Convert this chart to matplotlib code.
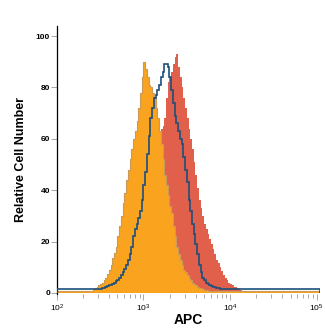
import numpy as np
import matplotlib
matplotlib.use("Agg")
import matplotlib.pyplot as plt
from matplotlib.ticker import LogLocator, FixedLocator

# histogram bins are 0.02 decades wide (log10 of APC intensity)
bin_width = 0.02
x_min_log = 2.0
x_max_log = 5.04

# orange: filled histogram, first bin starts at 10^2.40
orange_start = 2.40
orange_vals = [0.6, 1.5, 2, 2.5, 3, 3.5, 4, 5, 6, 7.5, 9, 11, 13.5, 15.5, 18,
               22, 26, 30, 35, 39, 44, 48, 52, 56, 60, 63, 67, 72, 78, 84, 90,
               87, 84, 81, 80, 78, 76, 72, 68, 63, 58, 52, 46, 42, 38, 34, 31,
               26, 22, 18, 15, 13, 11, 9, 8, 7, 6, 5, 4, 3.5, 3, 2.5, 2, 1.8,
               1.5, 1.2, 1, 0.8]
orange_base = 0.6

# red: filled histogram, first bin starts at 10^2.72
red_start = 2.72
red_vals = [1, 1.5, 2, 2.5, 3, 3.5, 4, 4.5, 5, 6, 7, 8, 9, 10.5, 12, 14, 17,
            21, 26, 33, 40, 48, 55, 60, 64, 65, 68, 76, 82, 84, 86, 89, 92, 93,
            88, 84, 80, 76, 72, 68, 64, 60, 56, 51, 46, 41, 36, 33, 30, 27, 25,
            23, 21, 19, 17, 15, 13, 11.5, 10, 8.5, 7, 6, 5, 4, 3.5, 3, 2.5,
            2.2, 2, 1.5, 1, 0.8]
red_base = 0.6

# blue: outline histogram, first bin starts at 10^2.48
blue_start = 2.48
blue_vals = [1.5, 1.5, 1.8, 2, 2.5, 2.8, 3, 3.2, 3.5, 4, 4.5, 5, 6, 7, 8, 9.5,
             11, 13, 15, 18, 22, 25, 27, 29, 32, 36, 42, 47, 54, 61, 68, 72,
             76, 77, 79, 81, 84, 86, 89, 89, 88, 84, 79, 74, 69, 66, 63, 60,
             58, 53, 48, 43, 36, 32, 27, 23, 19, 15, 11, 8, 6, 5, 4, 3.5, 3,
             2.8, 2.5, 2.2, 2, 1.8, 1.5]
blue_base = 1.5

y_ticks = [0, 20, 40, 60, 80, 100]
x_major = [1e2, 1e3, 1e4, 1e5]

n_bins = int(round((x_max_log - x_min_log) / bin_width))


def full_series(start, vals, base):
    out = np.full(n_bins, base, dtype=float)
    i0 = int(round((start - x_min_log) / bin_width))
    out[i0:i0 + len(vals)] = vals
    return out


edges = 10 ** (x_min_log + bin_width * np.arange(n_bins + 1))

plt.rcParams['font.family'] = ['Liberation Sans', 'DejaVu Sans']
plt.rcParams['mathtext.default'] = 'bf'

fig = plt.figure(figsize=(3.25, 3.28), dpi=100)
ax = fig.add_axes([0.175, 0.1037, 0.81, 0.817])

orange = full_series(orange_start, orange_vals, orange_base)
ax.stairs(full_series(red_start, red_vals, red_base), edges, fill=True,
          color='#e0604b', zorder=1)
ax.stairs(orange, edges, fill=True, color='#f9a31e', zorder=2)
ax.stairs(orange, edges, color='#c99a5a', linewidth=0.8, zorder=2.5)
ax.stairs(full_series(blue_start, blue_vals, blue_base), edges,
          color='#1d4f7c', linewidth=1.2, zorder=3)

ax.set_xscale('log')
ax.set_xlim(10 ** x_min_log, 10 ** x_max_log)
ax.set_ylim(-0.4, 103.9)

ax.xaxis.set_major_locator(FixedLocator(x_major))
ax.xaxis.set_minor_locator(LogLocator(base=10, subs=np.arange(2, 10)))
ax.set_yticks(y_ticks)

for s in ['top', 'right', 'bottom']:
    ax.spines[s].set_visible(False)
ax.spines['left'].set_linewidth(0.9)

ax.tick_params(axis='y', length=4, width=0.6, color='#999999', labelsize=6, pad=1)
ax.tick_params(axis='x', which='major', length=4, width=0.6, color='#999999',
               labelsize=6, pad=2)
ax.tick_params(axis='x', which='minor', length=3, width=0.6, color='#999999')
for lbl in ax.get_yticklabels():
    lbl.set_fontweight('bold')

ax.set_ylabel('Relative Cell Number', fontsize=9, fontweight='bold', labelpad=6)
ax.set_xlabel('APC', fontsize=10, fontweight='bold')
ax.xaxis.set_label_coords(0.5, -0.072)

plt.savefig('out.png', dpi=100)
